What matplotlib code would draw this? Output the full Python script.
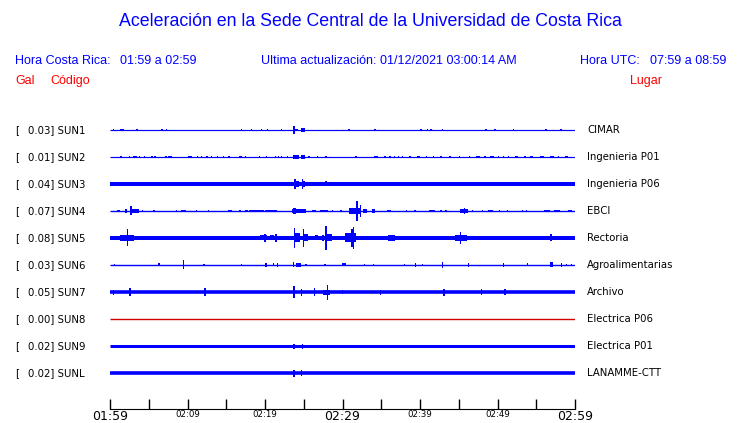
import matplotlib
matplotlib.use('Agg')
import matplotlib.pyplot as plt

# station info, top to bottom
codes = ['SUN1', 'SUN2', 'SUN3', 'SUN4', 'SUN5', 'SUN6', 'SUN7', 'SUN8', 'SUN9', 'SUNL']
gals = [0.03, 0.01, 0.04, 0.07, 0.08, 0.03, 0.05, 0.00, 0.02, 0.02]
places = ['CIMAR', 'Ingenieria P01', 'Ingenieria P06', 'EBCI', 'Rectoria',
          'Agroalimentarias', 'Archivo', 'Electrica P06', 'Electrica P01', 'LANAMME-CTT']
# half thickness of the quiet trace (px)
base_px = [0.6, 0.6, 2.0, 0.7, 2.0, 0.7, 1.8, 0.7, 1.5, 1.8]

# bursts: (minute after 01:59, half height px[, duration min])
sun1 = [(0.43, 1.0), (1.38, 1.3, 0.3), (1.68, 0.8), (3.48, 0.8), (6.67, 1.3, 0.3),
        (7.32, 0.8), (16.99, 1.2, 0.2), (18.28, 1.0), (19.57, 1.0), (20.30, 0.8),
        (22.15, 1.0), (23.74, 4.0), (24.0, 1.3, 0.6), (24.9, 1.8, 0.5), (30.84, 1.2),
        (34.19, 1.0), (40.13, 1.0), (40.99, 1.2), (41.42, 1.3, 0.25), (42.88, 0.8),
        (48.52, 1.0), (49.68, 0.8), (52.04, 0.8), (56.26, 1.0), (58.19, 0.8)]
sun2 = [(1.42, 0.9), (2.49, 0.9), (3.18, 1.0, 0.5), (3.78, 0.9), (4.43, 0.9),
        (5.38, 1.0, 0.25), (5.81, 0.9), (7.23, 0.9), (7.74, 1.0, 0.4), (10.37, 1.0, 0.5),
        (11.31, 0.9), (11.83, 0.9), (12.52, 1.0, 0.3), (13.12, 0.9), (13.85, 0.9),
        (14.62, 0.9), (15.35, 0.9), (16.82, 1.0, 0.3), (17.51, 0.9), (19.27, 0.9),
        (20.17, 0.9), (21.38, 0.9), (21.72, 0.9), (22.15, 0.9), (22.88, 0.9),
        (23.96, 2.0, 0.8), (24.90, 2.0, 0.6), (25.68, 1.0), (26.75, 1.0), (27.87, 1.0),
        (31.74, 0.9), (34.32, 1.0, 0.4), (35.48, 0.9), (36.13, 1.0), (36.69, 0.9),
        (37.20, 1.0), (37.76, 0.9), (38.71, 1.0), (39.78, 1.0, 0.4), (40.86, 0.9),
        (41.72, 1.0), (42.71, 0.9), (43.87, 1.0), (45.08, 1.0), (46.37, 0.9),
        (47.53, 1.0, 0.5), (48.39, 0.9), (49.25, 1.0, 0.5), (50.11, 1.0), (50.75, 0.9),
        (51.40, 0.9), (52.43, 1.0, 0.4), (53.55, 0.9), (54.41, 1.0, 0.4), (55.70, 1.0, 0.5),
        (56.99, 1.0, 0.5), (57.85, 0.9), (58.92, 1.0, 0.4)]
sun3 = [(23.87, 5.0, 0.25), (24.1, 3.0, 0.6), (24.82, 5.0, 0.2), (25.0, 3.0, 0.4),
        (27.87, 2.5, 0.3)]
sun4 = [(1.08, 1.3, 0.4), (2.06, 1.7, 0.3), (2.71, 4.5, 0.3), (3.3, 1.8, 1.0),
        (4.17, 1.0), (5.68, 1.0), (8.60, 0.9), (9.5, 0.9, 0.7), (11.18, 0.9),
        (12.69, 0.9), (15.5, 1.3, 0.5), (16.77, 1.0), (17.6, 1.4, 0.3), (18.9, 1.3, 2.0),
        (20.8, 1.3, 1.5), (23.8, 3.0, 0.3), (24.4, 1.8, 1.8), (26.3, 1.4, 0.6),
        (27.6, 1.4, 1.0), (28.73, 1.0), (29.81, 1.0), (31.6, 2.6, 1.6), (31.87, 10.0, 0.2),
        (32.3, 6.0, 0.2), (32.9, 1.8, 0.6), (34.0, 1.8, 0.4), (36.0, 1.3, 0.4),
        (38.28, 0.9), (39.35, 0.9), (41.5, 1.0, 0.8), (42.71, 1.0), (43.35, 1.0),
        (45.7, 1.6, 1.0), (45.72, 3.0, 0.2), (46.80, 1.0), (48.09, 1.0), (49.1, 1.2, 0.6),
        (50.24, 1.0), (51.31, 0.9), (53.25, 1.0), (53.76, 1.0), (56.4, 1.3, 0.7),
        (57.7, 1.3, 0.7), (59.35, 1.0, 0.4)]
sun5 = [(2.2, 3.2, 1.7), (2.28, 8.5, 0.2), (16.99, 2.0), (17.85, 2.0), (19.8, 2.5, 0.9),
        (20.0, 4.0, 0.2), (20.9, 2.5, 0.6), (21.4, 4.0, 0.2), (23.78, 10.0, 0.2),
        (24.1, 4.5, 0.8), (24.95, 9.0, 0.2), (25.25, 3.5, 0.6), (26.6, 2.5, 0.4),
        (27.5, 3.0, 0.3), (27.87, 12.0, 0.2), (28.2, 3.5, 0.8), (31.0, 4.5, 1.4),
        (31.20, 9.0, 0.2), (31.40, 11.0, 0.2), (35.27, 2.0), (36.3, 3.0, 0.9),
        (37.2, 2.0), (38.5, 2.0), (39.6, 2.0, 0.4), (41.72, 2.0), (45.3, 2.8, 1.5),
        (45.25, 6.0, 0.2), (47.74, 1.5), (50.54, 1.5), (52.90, 1.5), (55.27, 2.0),
        (56.9, 3.5, 0.35)]
sun6 = [(0.56, 1.0), (6.32, 1.5, 0.3), (9.46, 4.5), (12.13, 1.3), (16.99, 1.3),
        (20.13, 2.3), (21.08, 1.5), (21.63, 2.0), (23.7, 2.5), (24.3, 2.0, 0.6),
        (25.3, 1.0), (27.74, 1.2), (30.2, 1.5, 0.6), (32.82, 1.0), (33.98, 1.3),
        (37.98, 1.0), (39.44, 2.0), (40.34, 1.3), (42.92, 3.0), (46.24, 2.0),
        (50.75, 2.0), (53.89, 1.5), (56.99, 2.5, 0.4), (58.28, 2.0), (58.92, 1.3),
        (59.57, 1.3)]
sun7 = [(0.43, 2.5), (2.58, 4.0), (12.26, 4.0), (23.74, 6.0), (24.73, 3.5),
        (26.37, 4.0), (27.9, 2.5, 0.9), (28.09, 7.5), (29.98, 2.0), (34.88, 2.5),
        (43.10, 3.5), (47.96, 3.0), (50.97, 3.0)]
sun8 = []
sun9 = [(23.74, 2.5), (24.82, 2.5)]
sunl = [(23.74, 3.5), (24.73, 3.0)]
bursts = [sun1, sun2, sun3, sun4, sun5, sun6, sun7, sun8, sun9, sunl]

tick_min = list(range(0, 61, 5))
tick_txt = ['01:59', '', '02:09', '', '02:19', '', '02:29', '', '02:39', '', '02:49', '', '02:59']

blue = '#0000ff'
px = 27.0  # trace spacing in pixels

fig = plt.figure(figsize=(7.4, 4.23), dpi=100)
ax = fig.add_axes([110 / 740, 14 / 423, 465 / 740, 291 / 423])

for i, code in enumerate(codes):
    col = '#d40000' if gals[i] == 0 else blue
    ax.hlines(i, 0, 60, color=col, linewidth=2 * base_px[i] * 0.72)
    for b in bursts[i]:
        w = b[2] if len(b) > 2 else 0.15
        h = b[1] / px
        ax.bar(b[0], 2 * h, width=w, bottom=i - h, color=col, linewidth=0)
    ax.text(-95 / 7.75, i, '[', ha='left', va='center', fontsize=7.3, clip_on=False)
    ax.text(-82 / 7.75, i, '%.2f] %s' % (gals[i], code), ha='left', va='center',
            fontsize=7.3, clip_on=False)
    ax.text(60 + 12 / 7.75, i, places[i], ha='left', va='center', fontsize=7.3,
            clip_on=False)

ax.set_xlim(0, 60)
ax.set_ylim(10.333, -0.444)
for s in ['left', 'top', 'right']:
    ax.spines[s].set_visible(False)
ax.set_yticks([])
ax.set_xticks(tick_min)
ax.set_xticklabels(tick_txt)
ax.tick_params(axis='x', direction='in', length=7, width=1, pad=0.5)
for lab, t in zip(ax.get_xticklabels(), tick_min):
    lab.set_fontsize(9.0 if t % 30 == 0 else 6.2)

hdr = dict(family='Liberation Sans', fontsize=9, color=blue, va='center')
fig.text(0.5, 1 - 22 / 423, 'Aceleración en la Sede Central de la Universidad de Costa Rica',
         ha='center', va='center', family='Liberation Sans', fontsize=12.8, color=blue)
fig.text(15 / 740, 1 - 61 / 423, 'Hora Costa Rica:', **hdr)
fig.text(120 / 740, 1 - 61 / 423, '01:59 a 02:59', **hdr)
fig.text(261 / 740, 1 - 61 / 423, 'Ultima actualización:', **hdr)
fig.text(380 / 740, 1 - 61 / 423, '01/12/2021 03:00:14 AM', **hdr)
fig.text(580 / 740, 1 - 61 / 423, 'Hora UTC:', **hdr)
fig.text(650 / 740, 1 - 61 / 423, '07:59 a 08:59', **hdr)
red = dict(family='Liberation Sans', fontsize=9, color='#ff0000', va='center')
fig.text(15 / 740, 1 - 81 / 423, 'Gal', **red)
fig.text(50 / 740, 1 - 81 / 423, 'Código', **red)
fig.text(630 / 740, 1 - 81 / 423, 'Lugar', **red)

fig.savefig('out.png', dpi=100)
